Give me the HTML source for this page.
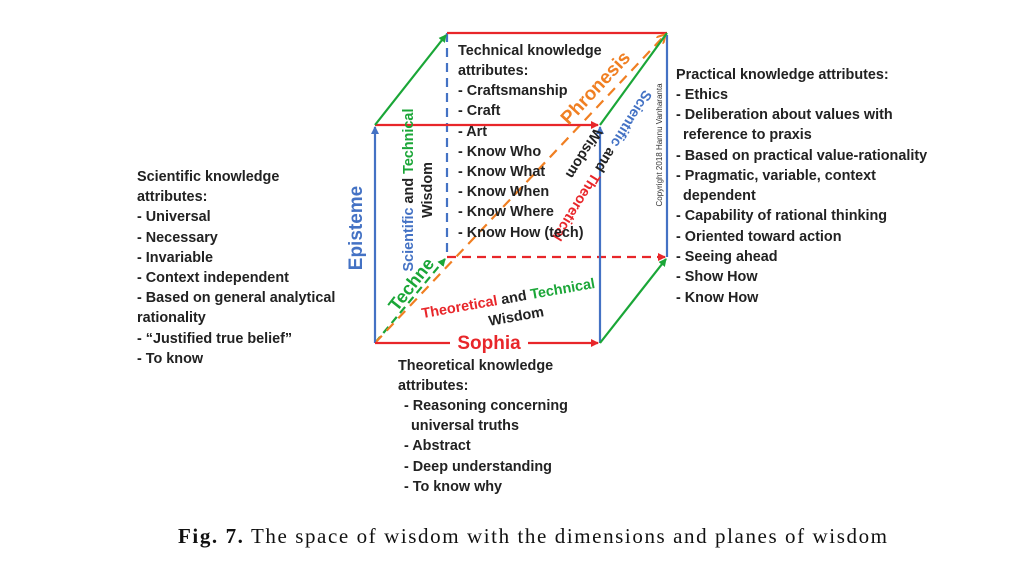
<!DOCTYPE html>
<html><head><meta charset="utf-8"><style>
html,body{margin:0;padding:0;background:#fff;}
svg{display:block;}
.t{font-family:"Liberation Sans",Arial,sans-serif;font-weight:bold;font-size:14.4px;fill:#222;}
</style></head><body>
<svg width="1017" height="566" viewBox="0 0 1017 566" xmlns="http://www.w3.org/2000/svg">
<defs>
<marker id="ar" markerWidth="8" markerHeight="8" refX="7" refY="4" orient="auto" markerUnits="userSpaceOnUse"><path d="M0,0 L8,4 L0,8 z" fill="#e8262a"/></marker>
<marker id="ab" markerWidth="8" markerHeight="8" refX="7" refY="4" orient="auto" markerUnits="userSpaceOnUse"><path d="M0,0 L8,4 L0,8 z" fill="#4472c4"/></marker>
<marker id="ag" markerWidth="8" markerHeight="8" refX="7" refY="4" orient="auto" markerUnits="userSpaceOnUse"><path d="M0,0 L8,4 L0,8 z" fill="#1aa637"/></marker>
<marker id="ao" markerWidth="10" markerHeight="10" refX="8" refY="5" orient="auto" markerUnits="userSpaceOnUse"><path d="M0,0 L9,5 L0,10" fill="none" stroke="#f07f22" stroke-width="2"/></marker>
</defs>
<g stroke-width="2.2" fill="none">
<line x1="447" y1="33" x2="447" y2="255" stroke="#4472c4" stroke-dasharray="9,6"/>
<line x1="447" y1="257" x2="665" y2="257" stroke="#e8262a" stroke-dasharray="9,6" marker-end="url(#ar)"/>
<line x1="375" y1="343" x2="445" y2="259" stroke="#1aa637" stroke-dasharray="8,5" marker-end="url(#ag)"/>
<line x1="447" y1="33" x2="667" y2="33" stroke="#e8262a"/>
<line x1="667" y1="257" x2="667" y2="35" stroke="#4472c4"/>
<line x1="375" y1="343" x2="665" y2="35" stroke="#f07f22" stroke-dasharray="10,7" marker-end="url(#ao)"/>
<line x1="375" y1="343" x2="375" y2="127" stroke="#4472c4" marker-end="url(#ab)"/>
<line x1="375" y1="125" x2="598" y2="125" stroke="#e8262a" marker-end="url(#ar)"/>
<line x1="600" y1="343" x2="600" y2="127" stroke="#4472c4" marker-end="url(#ab)"/>
<line x1="375" y1="343" x2="450" y2="343" stroke="#e8262a"/>
<line x1="528" y1="343" x2="598" y2="343" stroke="#e8262a" marker-end="url(#ar)"/>
<line x1="375" y1="125" x2="446" y2="35" stroke="#1aa637" marker-end="url(#ag)"/>
<line x1="600" y1="125" x2="667" y2="33" stroke="#1aa637"/>
<line x1="600" y1="343" x2="666" y2="259" stroke="#1aa637" marker-end="url(#ag)"/>
</g>
<text x="489" y="349" font-family="Liberation Sans,sans-serif" font-weight="bold" font-size="19" fill="#e8262a" text-anchor="middle">Sophia</text>
<text transform="translate(362,228) rotate(-90)" font-family="Liberation Sans,sans-serif" font-weight="bold" font-size="19" fill="#4472c4" text-anchor="middle">Episteme</text>
<text transform="translate(416,288) rotate(-52)" font-family="Liberation Sans,sans-serif" font-weight="bold" font-size="18" fill="#1aa637" text-anchor="middle">Techne</text>
<text transform="translate(600,92) rotate(-47)" font-family="Liberation Sans,sans-serif" font-weight="bold" font-size="19" fill="#f07f22" text-anchor="middle">Phronesis</text>
<g class="t" font-size="13.5">
<text transform="translate(413,190) rotate(-90)" text-anchor="middle"><tspan fill="#4472c4">Scientific</tspan> and <tspan fill="#1aa637">Technical</tspan></text>
<text transform="translate(432,190) rotate(-90)" text-anchor="middle">Wisdom</text>
<text transform="translate(509,303) rotate(-10)" text-anchor="middle"><tspan fill="#e8262a">Theoretical</tspan> and <tspan fill="#1aa637">Technical</tspan></text>
<text transform="translate(517,321) rotate(-10)" text-anchor="middle">Wisdom</text>
<text transform="translate(598,163) rotate(122)" text-anchor="middle"><tspan fill="#4472c4">Scientific</tspan> and <tspan fill="#e8262a">Theoretical</tspan></text>
<text transform="translate(580,151) rotate(122)" text-anchor="middle">Wisdom</text>
</g>
<text transform="translate(662,145) rotate(-90)" font-family="Liberation Sans,sans-serif" font-size="8" fill="#333" text-anchor="middle">Copyright 2018 Hannu Vanharanta</text>
<g class="t">
<text x="458" y="55">Technical knowledge</text>
<text x="458" y="75">attributes:</text>
<text x="458" y="95">- Craftsmanship</text>
<text x="458" y="115">- Craft</text>
<text x="458" y="136">- Art</text>
<text x="458" y="156">- Know Who</text>
<text x="458" y="176">- Know What</text>
<text x="458" y="196">- Know When</text>
<text x="458" y="216">- Know Where</text>
<text x="458" y="237">- Know How (tech)</text>

<text x="137" y="181">Scientific knowledge</text>
<text x="137" y="201">attributes:</text>
<text x="137" y="221">- Universal</text>
<text x="137" y="242">- Necessary</text>
<text x="137" y="262">- Invariable</text>
<text x="137" y="282">- Context independent</text>
<text x="137" y="302">- Based on general analytical</text>
<text x="137" y="322">rationality</text>
<text x="137" y="343">- “Justified true belief”</text>
<text x="137" y="363">- To know</text>

<text x="676" y="79">Practical knowledge attributes:</text>
<text x="676" y="99">- Ethics</text>
<text x="676" y="119">- Deliberation about values with</text>
<text x="683" y="139">reference to praxis</text>
<text x="676" y="160">- Based on practical value-rationality</text>
<text x="676" y="180">- Pragmatic, variable, context</text>
<text x="683" y="200">dependent</text>
<text x="676" y="220">- Capability of rational thinking</text>
<text x="676" y="241">- Oriented toward action</text>
<text x="676" y="261">- Seeing ahead</text>
<text x="676" y="281">- Show How</text>
<text x="676" y="302">- Know How</text>

<text x="398" y="370">Theoretical knowledge</text>
<text x="398" y="390">attributes:</text>
<text x="404" y="410">- Reasoning concerning</text>
<text x="411" y="430">universal truths</text>
<text x="404" y="450">- Abstract</text>
<text x="404" y="471">- Deep understanding</text>
<text x="404" y="491">- To know why</text>
</g>
<text x="178" y="543" font-family="Liberation Serif,serif" font-size="21" fill="#111" textLength="709" lengthAdjust="spacing"><tspan font-weight="bold">Fig. 7.</tspan>  The space of wisdom with the dimensions and planes of wisdom</text>
</svg>
</body></html>
